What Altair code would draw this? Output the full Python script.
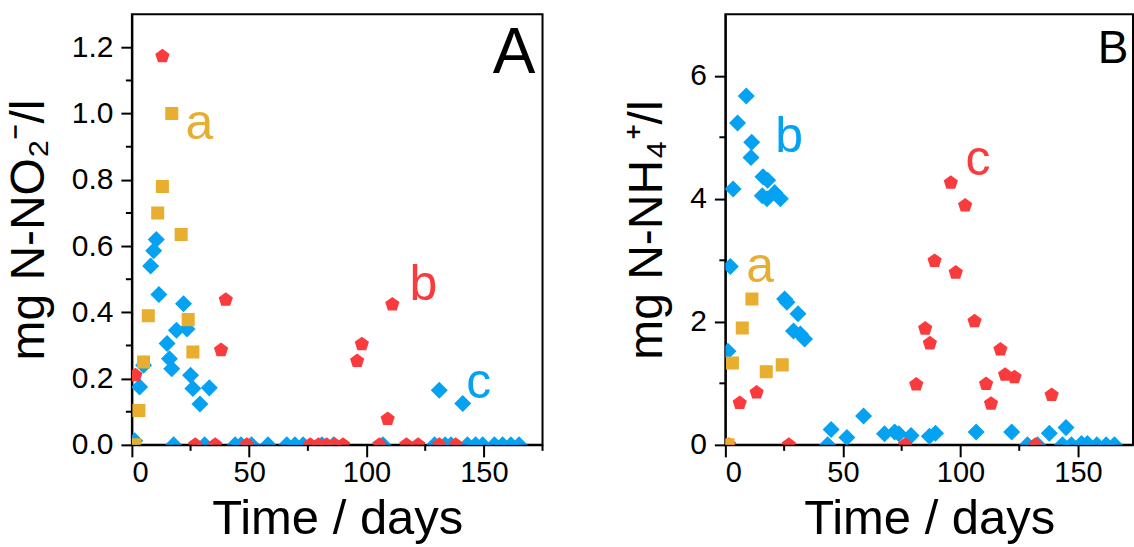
import altair as alt
import pandas as pd

FONT = "Liberation Sans"
GOLD = "#E7AE2F"
RED = "#FA3B3E"
BLUE = "#05A2F2"
PENTAGON = "M0,-1L0.951,-0.309L0.588,0.809L-0.588,0.809L-0.951,-0.309Z"

# ---------------- Panel A: nitrite ----------------
A_a_day = [1.2, 3, 5, 7, 11, 13, 17, 21, 24, 26]
A_a_val = [0.0, 0.104, 0.25, 0.39, 0.70, 0.78, 1.0, 0.635, 0.378, 0.28]

A_b_day = [1.5, 13, 38, 40, 96, 98, 109, 111,
           27, 35.5, 49, 76, 79.5, 83, 86.5, 90, 105.5, 117, 122, 131, 138]
A_b_val = [0.21, 1.173, 0.286, 0.438, 0.253, 0.304, 0.078, 0.424,
           0, 0, 0, 0, 0, 0, 0, 0, 0, 0, 0, 0, 0]

A_c_day = [1.2, 3.3, 5, 8, 9.3, 10.4, 11.5, 15, 16, 17, 19, 22, 23.5, 25, 26, 29, 33, 131, 141,
           17.8, 31, 44, 46.5, 51, 58, 66, 69.5, 73, 81, 86, 107, 129, 133.5, 136, 143, 146.5,
           149.5, 154.5, 158, 161.5, 165]
A_c_val = [0.012, 0.175, 0.24, 0.54, 0.586, 0.62, 0.454, 0.306, 0.26, 0.23, 0.346, 0.426, 0.35,
           0.21, 0.17, 0.123, 0.172, 0.165, 0.125,
           0, 0, 0, 0, 0, 0, 0, 0, 0, 0, 0, 0, 0, 0, 0, 0, 0, 0, 0, 0, 0, 0]

# ---------------- Panel B: ammonium ----------------
B_a_day = [1.1, 3, 7.2, 11.3, 17.4, 24.2]
B_a_val = [0.0, 1.33, 1.90, 2.37, 1.19, 1.30]

B_b_day = [1.1, 2.1, 3.3, 5.2, 8.9, 10.9, 11.2, 15.7, 16, 17.7, 18, 21, 23.4, 25.2, 26.2, 29,
           30.9, 31.9, 33.7, 45, 51.7, 58.8, 67.7, 72, 73.8, 79, 86.8, 89.4, 106.7, 121.8, 137.8,
           144.9, 43.5, 128.5, 132.8, 143.4, 147.2, 151.5, 154, 158, 162, 165.5]
B_b_val = [1.52, 2.90, 4.16, 5.23, 5.67, 4.67, 4.92, 4.05, 4.36, 4.0, 4.30, 4.10, 4.0, 2.37, 2.32,
           1.85, 2.13, 1.80, 1.72, 0.25, 0.12, 0.47, 0.18, 0.21, 0.18, 0.15, 0.14, 0.19, 0.21, 0.21,
           0.19, 0.28, 0, 0, 0, 0, 0, 0.02, 0.02, 0, 0, 0]

B_c_day = [1.5, 6.1, 13.3, 27, 76.5, 81.2, 85, 87, 89, 95.9, 98, 102, 106, 110.9, 113, 117, 119,
           123, 131.9, 138.8]
B_c_val = [0, 0.68, 0.85, 0, 0, 0.98, 1.89, 1.65, 2.99, 4.26, 2.80, 3.89, 2.01, 0.99, 0.67, 1.55,
           1.14, 1.10, 0, 0.81]

# ---------------- annotations ----------------
A_lbl_text = ["a", "b", "c", "A"]
A_lbl_day = [22.8, 118.3, 142.5, 153.8]
A_lbl_val = [0.923, 0.438, 0.14, 1.123]
A_lbl_color = [GOLD, RED, BLUE, "black"]
A_lbl_size = [50, 50, 50, 64]

B_lbl_text = ["b", "a", "c", "B"]
B_lbl_day = [21.2, 8.9, 102.1, 158.4]
B_lbl_val = [4.76, 2.64, 4.39, 6.21]
B_lbl_color = [BLUE, GOLD, RED, "black"]
B_lbl_size = [50, 50, 50, 46]

A_x_major = [0, 50, 100, 150]
A_x_minor = [25, 75, 125, 175]
A_y_major = [0.0, 0.2, 0.4, 0.6, 0.8, 1.0, 1.2]
A_y_minor = [0.1, 0.3, 0.5, 0.7, 0.9, 1.1]
B_x_major = [0, 50, 100, 150]
B_x_minor = [25, 75, 125]
B_y_major = [0, 2, 4, 6]
B_y_minor = [1, 3, 5]

W_A, H_A = 411, 431
W_B, H_B = 408, 431


def panel(series, lt, ld, lv, lc, ls, xdom, ydom, xmaj, xmin, ymaj, ymin, ytitle, yfmt, W, H):
    xs = alt.Scale(domain=xdom, nice=False, zero=False)
    ys = alt.Scale(domain=ydom, nice=False, zero=False)
    xax = alt.Axis(values=xmaj, title="Time / days", format="d", tickSize=12,
                   labelFontSize=29, labelPadding=2, titleFontSize=49, titlePadding=7)
    yax = alt.Axis(values=ymaj, title=ytitle, format=yfmt, tickSize=11,
                   labelPadding=8, titlePadding=18)

    layers = []
    for d, v, shape, color, size in series:
        df = pd.DataFrame({"day": d, "val": v})
        layers.append(alt.Chart(df).mark_point(shape=shape, filled=True, color=color, size=size,
                                               opacity=1, clip=True).encode(
            x=alt.X("day:Q", scale=xs, axis=xax),
            y=alt.Y("val:Q", scale=ys, axis=yax)))

    lab = pd.DataFrame({"t": lt, "day": ld, "val": lv, "c": lc, "s": ls})
    layers.append(alt.Chart(lab).mark_text(align="left", baseline="alphabetic", font=FONT).encode(
        x=alt.X("day:Q", scale=xs, axis=xax),
        y=alt.Y("val:Q", scale=ys, axis=yax),
        text="t:N",
        color=alt.Color("c:N", scale=None),
        size=alt.Size("s:Q", scale=None)))

    layers.append(alt.Chart(pd.DataFrame({"day": xmin})).mark_rule(color="black", strokeWidth=2).encode(
        x=alt.X("day:Q", scale=xs, axis=xax), y=alt.value(H), y2=alt.value(H + 6)))
    layers.append(alt.Chart(pd.DataFrame({"val": ymin})).mark_rule(color="black", strokeWidth=2).encode(
        y=alt.Y("val:Q", scale=ys, axis=yax), x=alt.value(0), x2=alt.value(-6)))

    return alt.layer(*layers).properties(width=W, height=H)


pA = panel([(A_c_day, A_c_val, "diamond", BLUE, 290),
            (A_b_day, A_b_val, PENTAGON, RED, 225),
            (A_a_day, A_a_val, "square", GOLD, 170)],
           A_lbl_text, A_lbl_day, A_lbl_val, A_lbl_color, A_lbl_size,
           [0, 175], [0, 1.3], A_x_major, A_x_minor, A_y_major, A_y_minor,
           "mg N-NO\u2082\u207b/l", ".1f", W_A, H_A)
pB = panel([(B_b_day, B_b_val, "diamond", BLUE, 290),
            (B_c_day, B_c_val, PENTAGON, RED, 225),
            (B_a_day, B_a_val, "square", GOLD, 170)],
           B_lbl_text, B_lbl_day, B_lbl_val, B_lbl_color, B_lbl_size,
           [0, 173.4], [0, 7], B_x_major, B_x_minor, B_y_major, B_y_minor,
           "mg N-NH\u2084\u207a/l", "d", W_B, H_B)

chart = alt.hconcat(pA, pB, spacing=78).properties(
    padding={"left": 4, "top": 13, "right": 0, "bottom": 0}
).configure_view(stroke="black", strokeWidth=2).configure_axis(
    domainColor="black", domainWidth=2, tickColor="black", tickWidth=2,
    labelFont=FONT, labelFontSize=30, labelColor="black",
    titleFont=FONT, titleFontSize=48, titleColor="black", titleFontWeight="normal",
    grid=False
)

chart.save("out.html", embed_options={"renderer": "svg", "actions": False})
